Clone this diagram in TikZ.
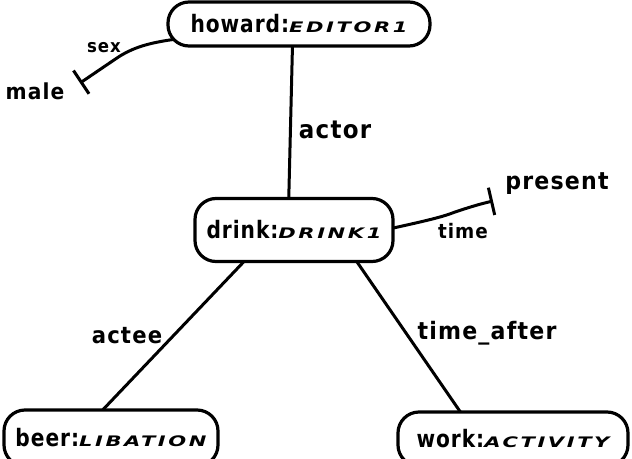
\documentclass[tikz,border=0pt]{standalone}
\usepackage{fontspec}
\setmainfont{DejaVu Sans}
\newfontfamily\handfont[FakeStretch=0.92,LetterSpace=5]{DejaVu Sans}
\newfontfamily\boxfont[FakeStretch=0.84,LetterSpace=4]{DejaVu Sans}
\newfontfamily\handcaps[FakeStretch=1.45,LetterSpace=18]{DejaVu Sans}
\usetikzlibrary{arrows.meta}
\pgfdeclarelayer{links}
\pgfsetlayers{links,main}
% concept type written in small wide capitals after the instance name
\newcommand\ctype[1]{{\handcaps\fontsize{14.5}{16}\selectfont\bfseries\itshape #1}}
\newcommand\handsz[1]{\handfont\fontsize{#1}{#1}\selectfont\bfseries}

\begin{document}
\begin{tikzpicture}[x=1pt,y=-1pt,
  concept/.style={draw, fill=white, line width=3.2pt, rounded corners=21pt,
    inner sep=0pt, font=\boxfont\fontsize{24}{26}\selectfont\bfseries},
  rel/.style={line width=3pt, line cap=round, line join=round},
  lbl/.style={font=\handsz{23}, inner sep=0pt},
  tbar/.style={-{Bar[width=28pt,line width=3pt]}}]
\useasboundingbox (0,0) rectangle (632,458);

% concepts
\node[concept, minimum width=262pt, minimum height=44pt] (howard) at (299,24) {howard:\ctype{EDITOR1}};
\node[concept, minimum width=198pt, minimum height=63pt] (drink) at (294,230) {drink:\ctype{DRINK1}};
\node[concept, minimum width=214pt, minimum height=56pt] (beer) at (111,438) {beer:\ctype{LIBATION}};
\node[concept, minimum width=230pt, minimum height=54pt] (work) at (513,439) {work:\ctype{ACTIVITY}};

% attribute values
\node[lbl, font=\handsz{22}] (male) at (35,91) {male};
\node[lbl, font=\handsz{24}] (present) at (557,184) {present};
\coordinate (maleT) at (80,83);
\coordinate (presentT) at (493,201);

% relation labels
\node[lbl, font=\handsz{18}] (sexlbl) at (104,48) {sex};
\node[lbl, font=\handsz{25}] (actorlbl) at (335,130) {actor};
\node[lbl, font=\handsz{20}] (timelbl) at (463,231) {time};
\node[lbl] (acteelbl) at (127,336) {actee};
\node[lbl, font=\handsz{24}] (afterlbl) at (487,333) {time\_after};

% relations, drawn beneath the concept boxes
\begin{pgfonlayer}{links}
  \draw[rel] ([xshift=-6pt]howard.center) -- ([xshift=-6pt]drink.center);
  \draw[rel] ([xshift=-20pt]drink.center) -- ([xshift=-35pt]beer.center);
  \draw[rel] ([xshift=41pt]drink.center) -- ([xshift=-34pt]work.center);
  \draw[rel, tbar] ([shift={(-114pt,-14pt)}]howard.center)
    .. controls (150,42) and (135,47) .. (120,56)
    .. controls (105,66) and (92,75) .. (maleT);
  \draw[rel, tbar] ([shift={(86pt,-1pt)}]drink.center)
    .. controls (420,222) and (440,218) .. (455,212)
    .. controls (470,207) and (480,204) .. (presentT);
\end{pgfonlayer}
\end{tikzpicture}
\end{document}
